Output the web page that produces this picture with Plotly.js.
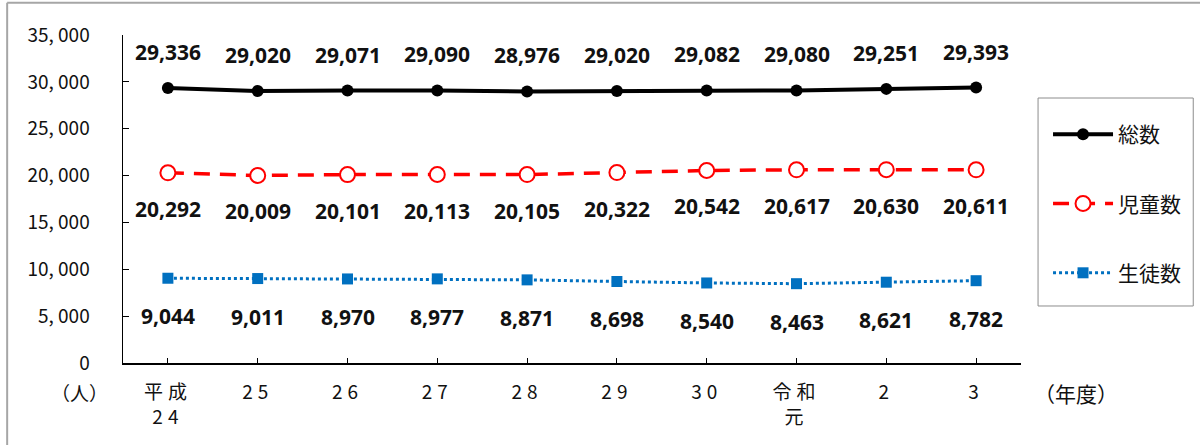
<!DOCTYPE html>
<html>
<head>
<meta charset="utf-8">
<script src="https://cdn.plot.ly/plotly-3.0.1.min.js"></script>
<style>
html,body{margin:0;padding:0;background:#fff;}
#chart{width:1200px;height:445px;}
.xtick text{letter-spacing:5px;}
</style>
</head>
<body>
<div id="chart"></div>
<script>
const categories = ["平成<br>24", "25", "26", "27", "28", "29", "30", "令和<br>元", "2", "3"];
const seriesNames = ["総数", "児童数", "生徒数"];
const totalValues = [29336, 29020, 29071, 29090, 28976, 29020, 29082, 29080, 29251, 29393];
const childValues = [20292, 20009, 20101, 20113, 20105, 20322, 20542, 20617, 20630, 20611];
const studentValues = [9044, 9011, 8970, 8977, 8871, 8698, 8540, 8463, 8621, 8782];
const yTickValues = [0, 5000, 10000, 15000, 20000, 25000, 30000, 35000];
const yTickLabels = ["0", "5, 000", "10, 000", "15, 000", "20, 000", "25, 000", "30, 000", "35, 000"];

const jp = '"Noto Sans CJK JP", "Noto Sans", sans-serif';
const xIdx = categories.map((c, i) => i);

const traces = [
  {
    name: seriesNames[0], x: xIdx, y: totalValues, type: 'scatter', mode: 'lines+markers',
    line: {color: '#000000', width: 4}, marker: {color: '#000000', size: 12, symbol: 'circle'},
    legendgroup: 'a', hoverinfo: 'skip'
  },
  {
    name: seriesNames[1], x: xIdx, y: childValues, type: 'scatter', mode: 'lines+markers',
    line: {color: '#ff0000', width: 3.5, dash: '16px,10px'},
    marker: {color: '#ffffff', size: 15, symbol: 'circle', line: {color: '#ff0000', width: 2}},
    legendgroup: 'b', hoverinfo: 'skip'
  },
  {
    name: seriesNames[2], x: xIdx, y: studentValues, type: 'scatter', mode: 'lines+markers',
    line: {color: '#0070c0', width: 3, dash: 'dot'},
    marker: {color: '#0070c0', size: 11, symbol: 'square'},
    legendgroup: 'c', hoverinfo: 'skip'
  }
];

const fmt = v => v.toLocaleString('en-US');
const labelFont = {family: '"Noto Sans", "Noto Sans CJK JP", sans-serif', size: 21, color: '#111', weight: 'bold'};
const annotations = [];
[[totalValues, -36], [childValues, 36], [studentValues, 38]].forEach(([vals, dy]) => {
  vals.forEach((v, i) => {
    annotations.push({x: i, y: v, xref: 'x', yref: 'y', text: fmt(v), showarrow: false,
      yshift: -dy, font: labelFont});
  });
});
annotations.push({xref: 'paper', yref: 'paper', x: -0.048, y: -0.09, text: '（人）', showarrow: false,
  xanchor: 'center', yanchor: 'middle', font: {family: jp, size: 19, color: '#111'}});
annotations.push({xref: 'paper', yref: 'paper', x: 1.0615, y: -0.09, text: '（年度）', showarrow: false,
  xanchor: 'center', yanchor: 'middle', font: {family: jp, size: 21, color: '#111'}});

const layout = {
  width: 1200, height: 445,
  margin: {l: 123, r: 179, t: 35, b: 82},
  paper_bgcolor: '#ffffff', plot_bgcolor: '#ffffff',
  showlegend: true,
  legend: {
    x: 1.0301, y: 0.759, xanchor: 'left', yanchor: 'top',
    borderwidth: 0, bgcolor: 'rgba(0,0,0,0)',
    font: {family: jp, size: 21, color: '#111'},
    tracegroupgap: 39, traceorder: 'grouped', itemwidth: 60
  },
  xaxis: {
    range: [-0.5, 9.5], tickmode: 'array', tickvals: xIdx, ticktext: categories,
    showline: true, linecolor: '#000', linewidth: 1.5, showgrid: false, zeroline: false,
    ticks: 'inside', ticklen: 5, tickcolor: '#000', tickson: 'boundaries',
    tickfont: {family: jp, size: 19, color: '#111'}, ticklabelstandoff: 12
  },
  yaxis: {
    range: [0, 35000], tickmode: 'array', tickvals: yTickValues, ticktext: yTickLabels,
    showline: true, linecolor: '#000', linewidth: 1.5, showgrid: false, zeroline: false,
    ticks: 'inside', ticklen: 6, tickcolor: '#000',
    tickfont: {family: jp, size: 19, color: '#111'}, ticklabelstandoff: 28
  },
  annotations: annotations,
  shapes: [
    {type: 'line', xref: 'paper', yref: 'paper', x0: -0.129, x1: -0.129, y0: 1.098, y1: -0.3,
      line: {color: '#a6a6a6', width: 2}},
    {type: 'line', xref: 'paper', yref: 'paper', x0: -0.129, x1: 1.2, y0: 1.098, y1: 1.098,
      line: {color: '#a6a6a6', width: 2}},
    {type: 'rect', xref: 'paper', yref: 'paper', x0: 1.019, x1: 1.1918, y0: 0.1738, y1: 0.8079,
      line: {color: '#8c8c8c', width: 1}, fillcolor: 'rgba(0,0,0,0)', layer: 'below'}
  ]
};

Plotly.newPlot('chart', traces, layout, {displayModeBar: false, staticPlot: true});
</script>
</body>
</html>
